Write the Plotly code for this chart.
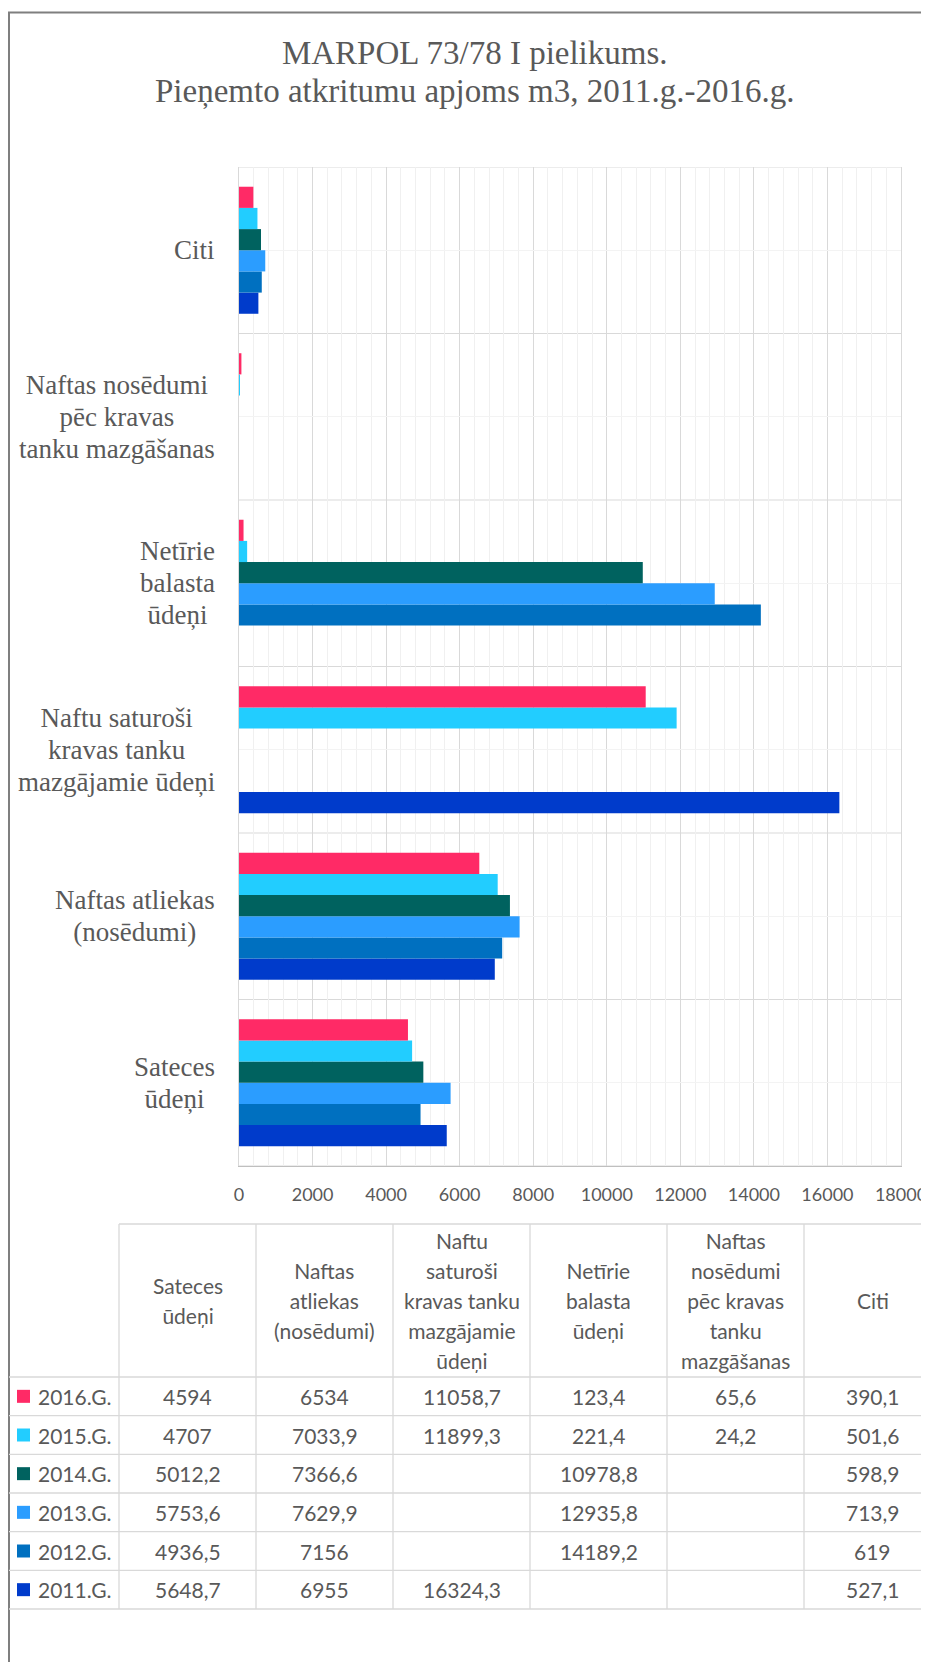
import plotly.graph_objects as go

# ---------------- data ----------------
categories = [
    "Sateces ūdeņi",
    "Naftas atliekas (nosēdumi)",
    "Naftu saturoši kravas tanku mazgājamie ūdeņi",
    "Netīrie balasta ūdeņi",
    "Naftas nosēdumi pēc kravas tanku mazgāšanas",
    "Citi",
]
axis_label_lines = [
    ["Sateces", "ūdeņi"],
    ["Naftas atliekas", "(nosēdumi)"],
    ["Naftu saturoši", "kravas tanku", "mazgājamie ūdeņi"],
    ["Netīrie", "balasta", "ūdeņi"],
    ["Naftas nosēdumi", "pēc kravas", "tanku mazgāšanas"],
    ["Citi"],
]
table_header_lines = [
    ["Sateces", "ūdeņi"],
    ["Naftas", "atliekas", "(nosēdumi)"],
    ["Naftu", "saturoši", "kravas tanku", "mazgājamie", "ūdeņi"],
    ["Netīrie", "balasta", "ūdeņi"],
    ["Naftas", "nosēdumi", "pēc kravas", "tanku", "mazgāšanas"],
    ["Citi"],
]

years = ["2016.G.", "2015.G.", "2014.G.", "2013.G.", "2012.G.", "2011.G."]
colors = ["#FF2A66", "#22CDFF", "#00625F", "#2B9DFF", "#0070C0", "#003BCB"]

v2016 = [4594, 6534, 11058.7, 123.4, 65.6, 390.1]
v2015 = [4707, 7033.9, 11899.3, 221.4, 24.2, 501.6]
v2014 = [5012.2, 7366.6, None, 10978.8, None, 598.9]
v2013 = [5753.6, 7629.9, None, 12935.8, None, 713.9]
v2012 = [4936.5, 7156, None, 14189.2, None, 619]
v2011 = [5648.7, 6955, 16324.3, None, None, 527.1]
series = [v2016, v2015, v2014, v2013, v2012, v2011]

title_lines = ["MARPOL 73/78 I pielikums.", "Pieņemto atkritumu apjoms m3, 2011.g.-2016.g."]

# ---------------- layout helpers ----------------
# the page body adds an 8px margin, so the figure is shifted by 8px
OFF = 8
FW, FH = 929 - OFF, 1670 - 2 * OFF
# plot area in page pixel coordinates
L, R, T, B = 239, 901, 167, 1166


def px(x):
    return (x - L) / (R - L)


def py(y):
    return 1 - (y - T) / (B - T)


TXT = "#595959"
GRID = "#d9d9d9"
MINOR = "#f0f0f0"


def fmt(v):
    return "" if v is None else f"{v:g}".replace(".", ",")


def multiline(lines, size):
    return "<br>".join(f"<span style='font-size:{size}px'>{l}</span>" for l in lines)


fig = go.Figure()

# bars: add 2011 first so 2016 ends up on top in every group
for name, vals, col in reversed(list(zip(years, series, colors))):
    fig.add_trace(go.Bar(
        y=categories, x=vals, name=name, orientation="h",
        marker=dict(color=col, line=dict(width=0)),
        showlegend=False,
    ))

shapes = []
annotations = []

# outer frame
shapes.append(dict(type="rect", xref="paper", yref="paper",
                   x0=px(9), x1=px(1000), y0=py(12.5), y1=py(1700),
                   line=dict(color="#7f7f7f", width=2), layer="below"))

# category boundary lines
for k in range(len(categories) + 1):
    shapes.append(dict(type="line", xref="paper", yref="y",
                       x0=0, x1=1, y0=k - 0.5, y1=k - 0.5,
                       line=dict(color=GRID, width=1), layer="below"))

# category labels (centered lines, right-aligned block)
for cat, lines in zip(categories, axis_label_lines):
    annotations.append(dict(
        text=multiline(lines, 27), x=0, xref="paper", xshift=-22,
        xanchor="right", align="center", y=cat, yref="y", yanchor="middle",
        showarrow=False,
        font=dict(family="Liberation Serif", size=24.6, color=TXT),
    ))

# title
annotations.append(dict(
    text=multiline(title_lines, 33), x=px(474), xref="paper", xanchor="center",
    align="center", y=py(72), yref="paper", yanchor="middle", showarrow=False,
    font=dict(family="Liberation Serif", size=29.2, color=TXT),
))

# ---------------- data table ----------------
head_top, head_bot = 1224, 1377
row_h = (1609 - 1377) / 6
col_w = 137
col_x = [119 + k * col_w for k in range(7)]
row_y = [head_bot + r * row_h for r in range(7)]

shapes.append(dict(type="line", xref="paper", yref="paper",
                   x0=px(col_x[0]), x1=px(960), y0=py(head_top), y1=py(head_top),
                   line=dict(color=GRID, width=1.3)))
for yy in row_y:
    shapes.append(dict(type="line", xref="paper", yref="paper",
                       x0=px(9), x1=px(960), y0=py(yy), y1=py(yy),
                       line=dict(color=GRID, width=1.3)))
for xx in col_x[:6]:
    shapes.append(dict(type="line", xref="paper", yref="paper",
                       x0=px(xx), x1=px(xx), y0=py(head_top), y1=py(row_y[-1]),
                       line=dict(color=GRID, width=1.3)))

TFONT = "Lato"
TSIZE = 21
for k, lines in enumerate(table_header_lines):
    annotations.append(dict(
        text=multiline(lines, TSIZE), x=px(col_x[k] + col_w / 2), xref="paper",
        xanchor="center", align="center", y=py((head_top + head_bot) / 2),
        yref="paper", yanchor="middle", showarrow=False,
        font=dict(family=TFONT, size=23, color=TXT),
    ))

for r, (name, vals, col) in enumerate(zip(years, series, colors)):
    yc = row_y[r] + row_h / 2
    shapes.append(dict(type="rect", xref="paper", yref="paper",
                       x0=px(17), x1=px(30), y0=py(yc - 6.5), y1=py(yc + 6.5),
                       fillcolor=col, line=dict(width=0)))
    annotations.append(dict(
        text=name, x=px(36), xref="paper", xanchor="left",
        y=py(yc), yref="paper", yanchor="middle", showarrow=False,
        font=dict(family=TFONT, size=TSIZE, color=TXT),
    ))
    for k, v in enumerate(vals):
        if v is None:
            continue
        annotations.append(dict(
            text=fmt(v), x=px(col_x[k] + col_w / 2), xref="paper",
            xanchor="center", y=py(yc), yref="paper", yanchor="middle",
            showarrow=False, font=dict(family=TFONT, size=TSIZE, color=TXT),
        ))

fig.update_layout(
    width=FW, height=FH, autosize=False,
    margin=dict(l=L - OFF, r=FW - (R - OFF), t=T - OFF, b=FH - (B - OFF), pad=0),
    paper_bgcolor="white", plot_bgcolor="white",
    barmode="group", bargap=0.237, bargroupgap=0,
    shapes=shapes, annotations=annotations,
    showlegend=False,
    xaxis=dict(
        range=[0, 18000], dtick=2000, tick0=0, tickformat="d",
        showgrid=True, gridcolor=GRID,
        gridwidth=1, zeroline=False, showline=True, linecolor="#bfbfbf",
        linewidth=1, ticks="", ticklabelstandoff=12, automargin=False,
        ticklabeloverflow="allow",
        tickfont=dict(family="Lato", size=18, color=TXT),
        minor=dict(dtick=400, showgrid=True, gridcolor=MINOR, gridwidth=1),
        fixedrange=True,
    ),
    yaxis=dict(
        type="category", range=[-0.5, len(categories) - 0.5], autorange=False,
        showgrid=True, gridcolor="#f3f3f3", showticklabels=False, ticks="",
        showline=True, linecolor=GRID, linewidth=1, mirror=True,
        zeroline=False, fixedrange=True, automargin=False,
    ),
)

fig.write_html("out.html")
